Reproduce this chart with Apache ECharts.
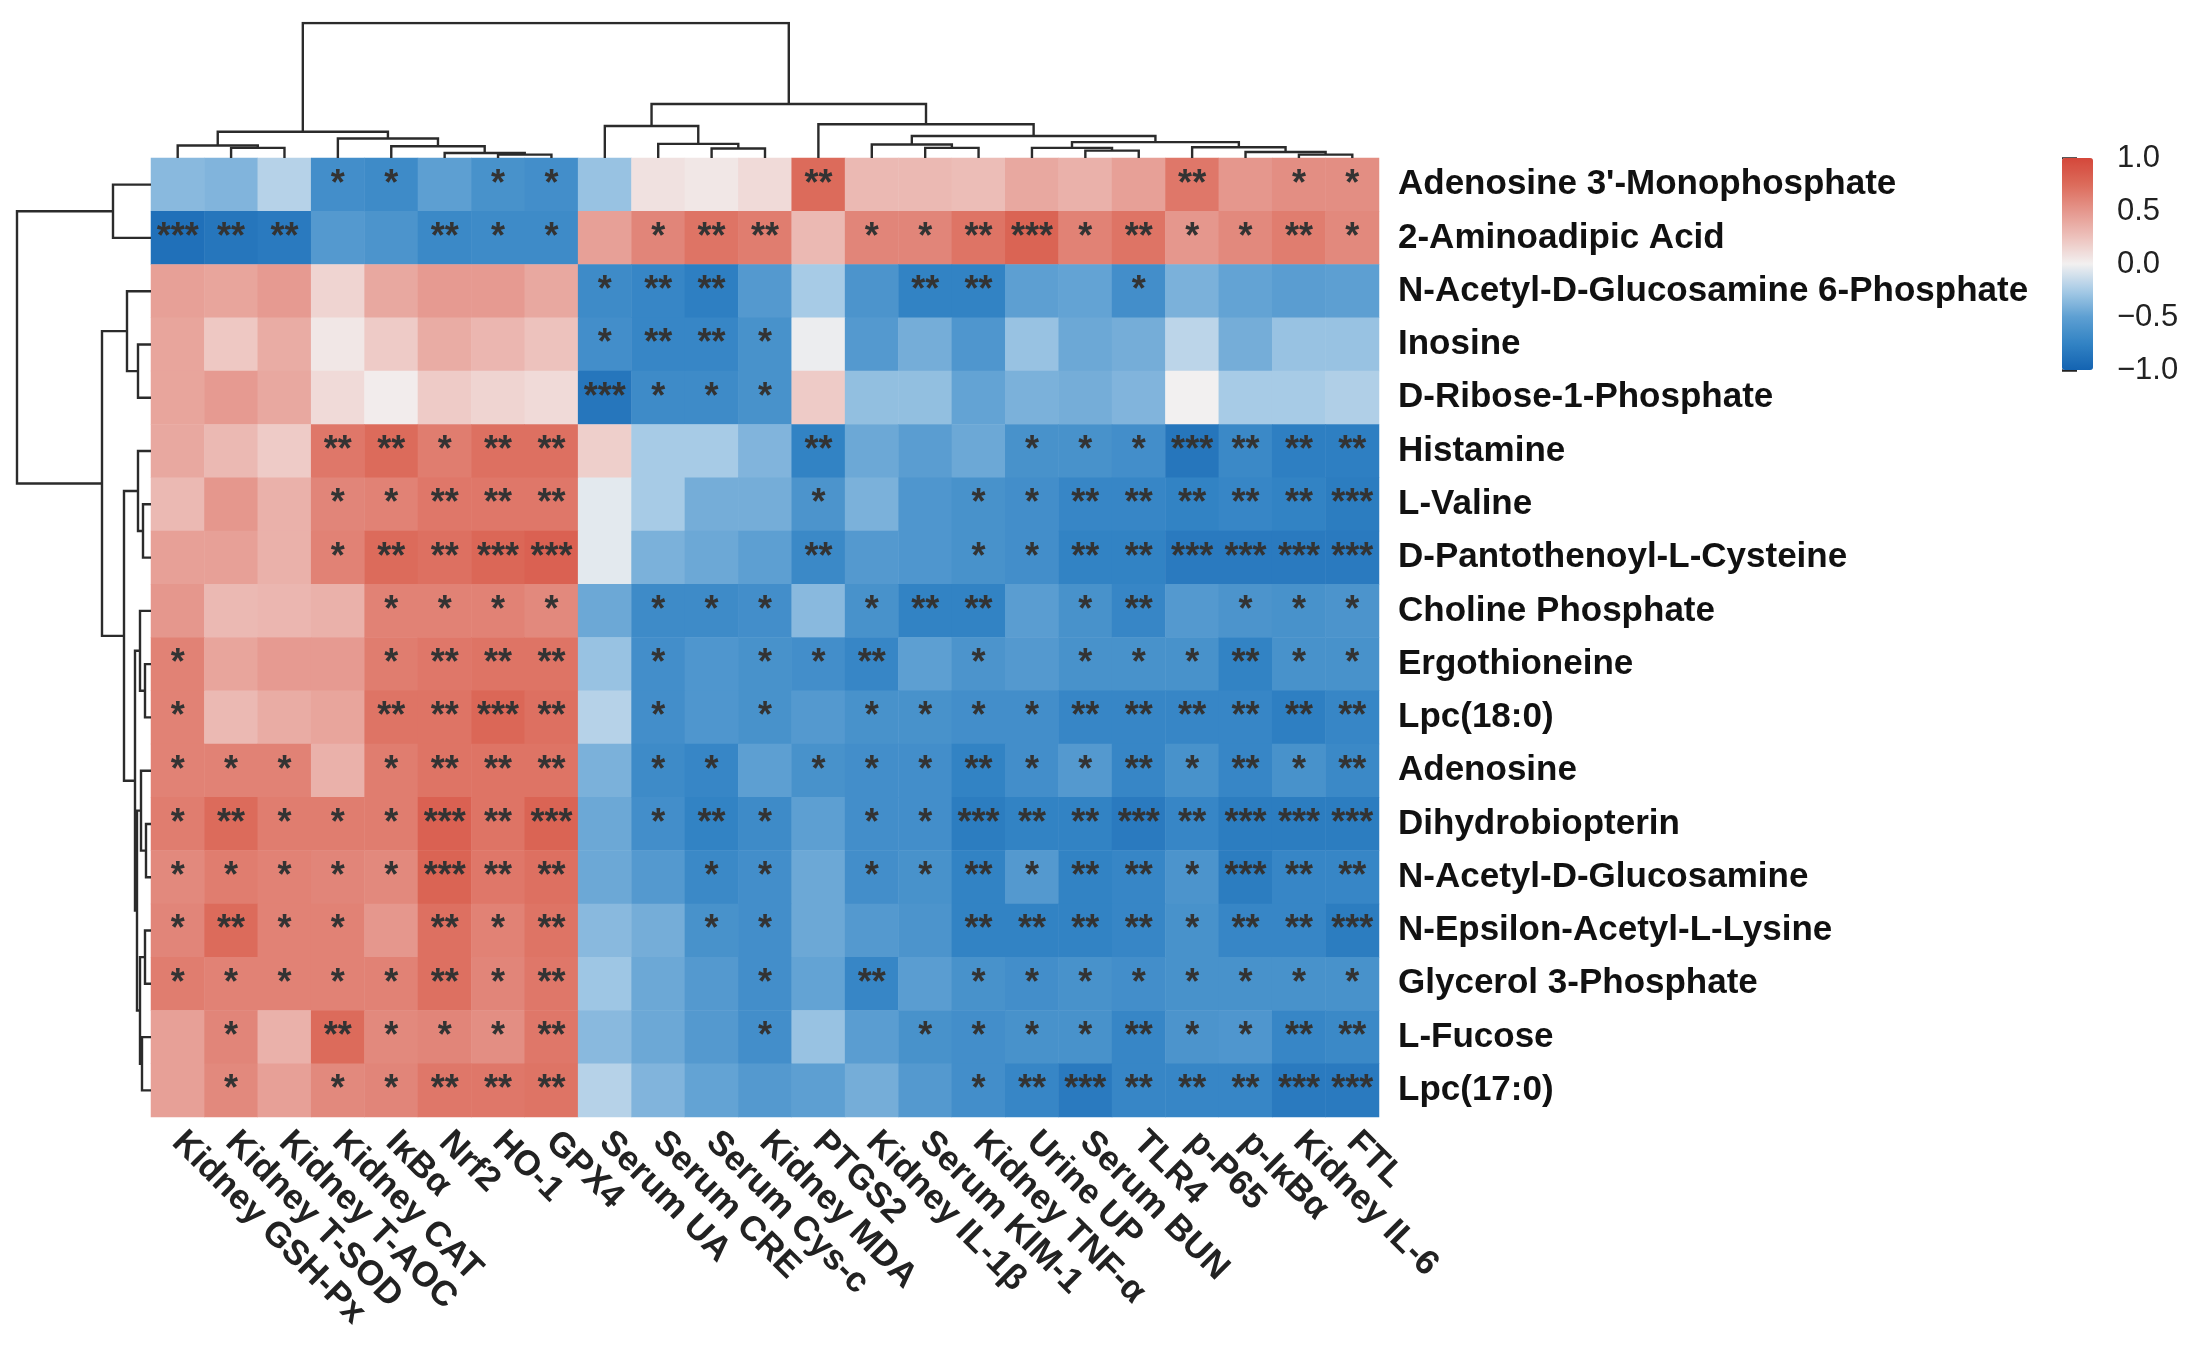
<!DOCTYPE html>
<html>
<head>
<meta charset="utf-8">
<script src="https://cdn.jsdelivr.net/npm/echarts@6/dist/echarts.min.js"></script>
<style>
  html, body { margin: 0; padding: 0; background: #fff; }
  #chart { width: 2211px; height: 1356px; }
</style>
</head>
<body>
<div id="chart"></div>
<script>
// column / row names (clustered order)
var cols = ['Kidney GSH-Px', 'Kidney T-SOD', 'Kidney T-AOC', 'Kidney CAT', 'IκBα', 'Nrf2', 'HO-1', 'GPX4',
  'Serum UA', 'Serum CRE', 'Serum Cys-c', 'Kidney MDA', 'PTGS2', 'Kidney IL-1β', 'Serum KIM-1', 'Kidney TNF-α',
  'Urine UP', 'Serum BUN', 'TLR4', 'p-P65', 'p-IκBα', 'Kidney IL-6', 'FTL'];
var rows = ["Adenosine 3'-Monophosphate", '2-Aminoadipic Acid', 'N-Acetyl-D-Glucosamine 6-Phosphate', 'Inosine',
  'D-Ribose-1-Phosphate', 'Histamine', 'L-Valine', 'D-Pantothenoyl-L-Cysteine', 'Choline Phosphate', 'Ergothioneine',
  'Lpc(18:0)', 'Adenosine', 'Dihydrobiopterin', 'N-Acetyl-D-Glucosamine', 'N-Epsilon-Acetyl-L-Lysine',
  'Glycerol 3-Phosphate', 'L-Fucose', 'Lpc(17:0)'];

// correlation values, one array per row
var corr = [
  [-0.35,-0.38,-0.2,-0.65,-0.68,-0.5,-0.62,-0.65,-0.3,0.08,0.05,0.12,0.75,0.3,0.3,0.28,0.4,0.35,0.45,0.68,0.5,0.55,0.55],
  [-0.9,-0.85,-0.82,-0.55,-0.6,-0.7,-0.68,-0.68,0.45,0.6,0.7,0.65,0.3,0.6,0.6,0.7,0.8,0.62,0.7,0.5,0.58,0.65,0.58],
  [0.45,0.42,0.48,0.15,0.4,0.48,0.48,0.4,-0.68,-0.72,-0.78,-0.55,-0.25,-0.6,-0.75,-0.75,-0.5,-0.48,-0.65,-0.4,-0.48,-0.52,-0.5],
  [0.42,0.22,0.38,0.05,0.2,0.38,0.32,0.25,-0.65,-0.72,-0.72,-0.62,-0.02,-0.55,-0.42,-0.58,-0.3,-0.45,-0.42,-0.18,-0.42,-0.3,-0.3],
  [0.42,0.48,0.4,0.12,0.02,0.2,0.15,0.12,-0.85,-0.68,-0.68,-0.62,0.2,-0.32,-0.32,-0.48,-0.4,-0.42,-0.38,0.0,-0.25,-0.25,-0.22],
  [0.4,0.3,0.2,0.68,0.75,0.65,0.72,0.72,0.18,-0.25,-0.25,-0.38,-0.75,-0.45,-0.52,-0.45,-0.62,-0.62,-0.65,-0.85,-0.7,-0.78,-0.78],
  [0.3,0.5,0.35,0.6,0.62,0.68,0.68,0.68,-0.05,-0.25,-0.42,-0.42,-0.6,-0.4,-0.58,-0.62,-0.65,-0.72,-0.72,-0.75,-0.72,-0.75,-0.8],
  [0.45,0.45,0.35,0.62,0.75,0.72,0.78,0.82,-0.05,-0.4,-0.45,-0.5,-0.7,-0.55,-0.58,-0.62,-0.65,-0.75,-0.75,-0.82,-0.82,-0.82,-0.82],
  [0.5,0.3,0.32,0.35,0.62,0.62,0.62,0.58,-0.45,-0.68,-0.68,-0.65,-0.35,-0.62,-0.75,-0.75,-0.52,-0.62,-0.72,-0.55,-0.6,-0.62,-0.6],
  [0.62,0.42,0.48,0.48,0.65,0.68,0.7,0.7,-0.3,-0.65,-0.58,-0.62,-0.65,-0.72,-0.5,-0.6,-0.55,-0.62,-0.62,-0.62,-0.75,-0.62,-0.62],
  [0.62,0.3,0.38,0.42,0.7,0.7,0.78,0.72,-0.2,-0.65,-0.58,-0.62,-0.55,-0.62,-0.62,-0.65,-0.65,-0.72,-0.72,-0.72,-0.72,-0.78,-0.72],
  [0.62,0.62,0.62,0.35,0.65,0.7,0.7,0.7,-0.4,-0.68,-0.72,-0.5,-0.62,-0.65,-0.65,-0.75,-0.65,-0.55,-0.72,-0.62,-0.72,-0.62,-0.7],
  [0.65,0.75,0.65,0.65,0.65,0.82,0.7,0.8,-0.45,-0.65,-0.75,-0.68,-0.5,-0.65,-0.65,-0.8,-0.75,-0.75,-0.82,-0.72,-0.8,-0.8,-0.8],
  [0.58,0.65,0.62,0.6,0.58,0.8,0.68,0.72,-0.45,-0.55,-0.7,-0.65,-0.45,-0.65,-0.62,-0.75,-0.55,-0.75,-0.72,-0.6,-0.8,-0.72,-0.72],
  [0.6,0.75,0.62,0.62,0.5,0.72,0.62,0.7,-0.35,-0.42,-0.62,-0.65,-0.45,-0.55,-0.6,-0.75,-0.75,-0.75,-0.72,-0.62,-0.72,-0.72,-0.8],
  [0.65,0.62,0.62,0.62,0.62,0.72,0.6,0.68,-0.28,-0.45,-0.55,-0.65,-0.48,-0.72,-0.52,-0.62,-0.65,-0.62,-0.65,-0.62,-0.62,-0.62,-0.62],
  [0.45,0.6,0.35,0.75,0.58,0.6,0.55,0.68,-0.35,-0.45,-0.55,-0.65,-0.3,-0.52,-0.62,-0.65,-0.62,-0.62,-0.72,-0.6,-0.58,-0.72,-0.7],
  [0.45,0.58,0.45,0.58,0.6,0.68,0.68,0.7,-0.2,-0.38,-0.48,-0.55,-0.5,-0.42,-0.55,-0.65,-0.72,-0.82,-0.72,-0.72,-0.72,-0.82,-0.82]
];

// significance level per cell (number of stars)
var sig = [
  [0,0,0,1,1,0,1,1,0,0,0,0,2,0,0,0,0,0,0,2,0,1,1],
  [3,2,2,0,0,2,1,1,0,1,2,2,0,1,1,2,3,1,2,1,1,2,1],
  [0,0,0,0,0,0,0,0,1,2,2,0,0,0,2,2,0,0,1,0,0,0,0],
  [0,0,0,0,0,0,0,0,1,2,2,1,0,0,0,0,0,0,0,0,0,0,0],
  [0,0,0,0,0,0,0,0,3,1,1,1,0,0,0,0,0,0,0,0,0,0,0],
  [0,0,0,2,2,1,2,2,0,0,0,0,2,0,0,0,1,1,1,3,2,2,2],
  [0,0,0,1,1,2,2,2,0,0,0,0,1,0,0,1,1,2,2,2,2,2,3],
  [0,0,0,1,2,2,3,3,0,0,0,0,2,0,0,1,1,2,2,3,3,3,3],
  [0,0,0,0,1,1,1,1,0,1,1,1,0,1,2,2,0,1,2,0,1,1,1],
  [1,0,0,0,1,2,2,2,0,1,0,1,1,2,0,1,0,1,1,1,2,1,1],
  [1,0,0,0,2,2,3,2,0,1,0,1,0,1,1,1,1,2,2,2,2,2,2],
  [1,1,1,0,1,2,2,2,0,1,1,0,1,1,1,2,1,1,2,1,2,1,2],
  [1,2,1,1,1,3,2,3,0,1,2,1,0,1,1,3,2,2,3,2,3,3,3],
  [1,1,1,1,1,3,2,2,0,0,1,1,0,1,1,2,1,2,2,1,3,2,2],
  [1,2,1,1,0,2,1,2,0,0,1,1,0,0,0,2,2,2,2,1,2,2,3],
  [1,1,1,1,1,2,1,2,0,0,0,1,0,2,0,1,1,1,1,1,1,1,1],
  [0,1,0,2,1,1,1,2,0,0,0,1,0,0,1,1,1,1,2,1,1,2,2],
  [0,1,0,1,1,2,2,2,0,0,0,0,0,0,0,1,2,3,2,2,2,3,3]
];

// linkage trees: [left, right, height], leaves are category indexes
var colTree = [[[0,[1,2,30],37],[3,[4,[5,[6,7,10],15],35],58],78],
  [[8,[9,[10,11,28],42],95],[12,[[13,[14,15,30],40],[[16,[17,18,22],30],[19,[20,[21,22,10],18],32],47],65],100],160],400];
var rowTree = [[0,1,38],[[2,[3,4,13],24],[[5,[6,7,8],13],[[8,[9,10,6],11],[[11,[12,13,5],10],[[14,15,6],[16,17,9],11],14],16],27],49],134];

var colorTicks = [-1, -0.5, 0, 0.5, 1];

;(function () {
    var FONT = 'Liberation Sans';

    // 把树转成 U 形折线
    function dendro(tree, swap) {
        var segs = [];
        function walk(node) {
            if (typeof node === 'number') return {pos: node, h: 0};
            var a = walk(node[0]), b = walk(node[1]), h = node[2];
            var pts = [[a.pos, a.h], [a.pos, h], [b.pos, h], [b.pos, b.h]];
            if (swap) pts = pts.map(function (p) { return [p[1], p[0]]; });
            segs.push({coords: pts});
            return {pos: (a.pos + b.pos) / 2, h: h};
        }
        walk(tree);
        return segs;
    }

    var cells = [];
    for (var r = 0; r < rows.length; r++) {
        for (var c = 0; c < cols.length; c++) {
            cells.push([c, r, corr[r][c]]);
        }
    }

    function stars(n) { return n ? new Array(n + 1).join('*') : ''; }

    var chart = echarts.init(document.getElementById('chart'), null, {renderer: 'canvas'});
    var option = {
        backgroundColor: '#fff',
        animation: false,
        grid: [
            {left: 151, top: 158, width: 1228, height: 959},
            {left: 151, top: 23, width: 1228, height: 135},
            {left: 17, top: 158, width: 134, height: 959},
            {left: 2062, top: 158, width: 31, height: 212}
        ],
        xAxis: [
            {gridIndex: 0, type: 'category', data: cols, position: 'bottom',
                axisLine: {show: false}, axisTick: {show: false}, splitLine: {show: false},
                axisLabel: {interval: 0, rotate: -45, margin: 20, fontSize: 35, fontWeight: 'bold',
                    fontFamily: FONT, color: '#222'}},
            {gridIndex: 1, type: 'value', min: -0.5, max: cols.length - 0.5, show: false},
            {gridIndex: 2, type: 'value', min: 0, max: 134, inverse: true, show: false},
            {gridIndex: 3, type: 'value', min: 0, max: 1, show: false}
        ],
        yAxis: [
            {gridIndex: 0, type: 'category', data: rows, inverse: true, position: 'right',
                axisLine: {show: false}, axisTick: {show: false}, splitLine: {show: false},
                axisLabel: {interval: 0, margin: 19, fontSize: 35, fontWeight: 'bold',
                    fontFamily: FONT, color: '#111'}},
            {gridIndex: 1, type: 'value', min: 0, max: 400, show: false},
            {gridIndex: 2, type: 'value', min: -0.5, max: rows.length - 0.5, inverse: true, show: false},
            {gridIndex: 3, type: 'value', min: colorTicks[0], max: colorTicks[colorTicks.length - 1],
                interval: 0.5, position: 'right',
                axisLine: {show: false}, splitLine: {show: false},
                axisTick: {show: true, length: 15, lineStyle: {color: '#222', width: 2.5}},
                axisLabel: {margin: 24, fontSize: 31, fontFamily: FONT, color: '#222',
                    formatter: function (v) { return (v < 0 ? '\u2212' : '') + Math.abs(v).toFixed(1); }}}
        ],
        visualMap: {
            type: 'continuous', seriesIndex: 0, min: -1, max: 1, calculable: false,
            orient: 'vertical', left: 2062, top: 158, itemWidth: 31, itemHeight: 212,
            padding: 0, text: null, showLabel: false,
            inRange: {color: ['#1463b1', '#3283c4', '#5d9fd2', '#a7cbe6', '#f2f0f0',
                '#edc2bd', '#e5978d', '#dc6b5b', '#d4473a']}
        },
        series: [
            {
                type: 'heatmap', xAxisIndex: 0, yAxisIndex: 0, data: cells,
                emphasis: {disabled: true},
                label: {
                    show: true, fontSize: 36, fontWeight: 'bold', fontFamily: FONT, color: '#333',
                    formatter: function (p) { return stars(sig[p.data[1]][p.data[0]]); }
                }
            },
            {
                type: 'lines', coordinateSystem: 'cartesian2d', xAxisIndex: 1, yAxisIndex: 1,
                polyline: true, silent: true, data: dendro(colTree, false),
                lineStyle: {color: '#2b2b2b', width: 2.4, opacity: 1}
            },
            {
                type: 'lines', coordinateSystem: 'cartesian2d', xAxisIndex: 2, yAxisIndex: 2,
                polyline: true, silent: true, data: dendro(rowTree, true),
                lineStyle: {color: '#2b2b2b', width: 2.4, opacity: 1}
            },
            {type: 'scatter', xAxisIndex: 3, yAxisIndex: 3, data: [], silent: true}
        ]
    };
    chart.setOption(option);
})();
</script>
</body>
</html>
